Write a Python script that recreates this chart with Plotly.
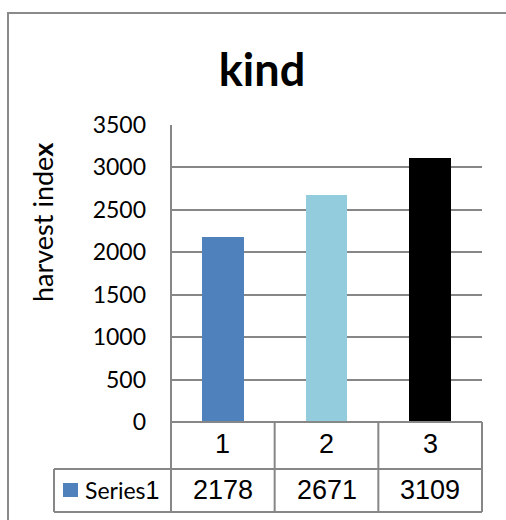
import plotly.graph_objects as go

# Chart data
categories = ["1", "2", "3"]
values = [2178, 2671, 3109]
series_name = "Series1"
bar_colors = ["#4F81BD", "#93CDDD", "#000000"]
y_ticks = [0, 500, 1000, 1500, 2000, 2500, 3000, 3500]

W, H = 506, 520
GRID = "#878787"


def px(x):
    return x / W


def py(y):
    return 1 - y / H


# plot area in pixels
PL, PR, PT, PB = 171, 482, 125, 422
ROW1_B, ROW2_B, TABLE_L = 469, 512, 54

fig = go.Figure()
fig.add_trace(go.Bar(
    x=categories, y=values, width=0.405,
    marker=dict(color=bar_colors, line=dict(width=0)),
    name=series_name, showlegend=False, hoverinfo="skip",
))

shapes = []


def hline(y, x0, x1, color=GRID, w=2):
    shapes.append(dict(type="line", xref="paper", yref="paper",
                       x0=px(x0), x1=px(x1), y0=py(y), y1=py(y),
                       line=dict(color=color, width=w)))


def vline(x, y0, y1, xref="paper", color=GRID, w=2):
    xv = px(x) if xref == "paper" else x
    shapes.append(dict(type="line", xref=xref, yref="paper",
                       x0=xv, x1=xv, y0=py(y0), y1=py(y1),
                       line=dict(color=color, width=w)))


# outer frame (left and top edges)
shapes.append(dict(type="path", xref="paper", yref="paper",
                   path=f"M {px(8)} {py(H)} L {px(8)} {py(13)} L {px(W)} {py(13)}",
                   line=dict(color="#8a8a8a", width=2)))

# data table grid
hline(PB, PL, PR)
hline(ROW1_B, TABLE_L, PR)
hline(ROW2_B, TABLE_L, PR)
vline(PL, PT, ROW2_B)
vline(PR, PB, ROW2_B)
vline(TABLE_L, ROW1_B, ROW2_B)
for i in range(1, len(categories)):
    vline(i - 0.5, PB, ROW2_B, xref="x")

# legend key in the table
shapes.append(dict(type="rect", xref="paper", yref="paper",
                   x0=px(63), x1=px(78), y0=py(497), y1=py(483),
                   fillcolor=bar_colors[0], line=dict(width=0)))

annotations = []
table_font = dict(family="Liberation Sans, Arial", size=27, color="#000000")
for i, (c, v) in enumerate(zip(categories, values)):
    annotations.append(dict(x=i, xref="x", y=py(444), yref="paper",
                            text=c, showarrow=False, font=table_font,
                            xanchor="center", yanchor="middle"))
    annotations.append(dict(x=i, xref="x", y=py(490), yref="paper",
                            text=str(v), showarrow=False, font=table_font,
                            xanchor="center", yanchor="middle"))

annotations.append(dict(
    x=px(83), xref="paper", y=py(490), yref="paper",
    text=series_name[:-1] + '<span style="font-family:Liberation Sans, Arial;font-size:25px">'
    + series_name[-1] + "</span>",
    showarrow=False, xanchor="left", yanchor="middle",
    font=dict(family="Lato", size=23, color="#000000")))

# y axis title
annotations.append(dict(
    x=px(42), xref="paper", y=py(222), yref="paper",
    text="harvest inde<b>x</b>", textangle=-90, showarrow=False,
    xanchor="center", yanchor="middle",
    font=dict(family="Lato", size=27, color="#000000")))

fig.update_layout(
    width=W, height=H,
    margin=dict(l=0, r=0, t=0, b=0, pad=0, autoexpand=False),
    paper_bgcolor="white", plot_bgcolor="white",
    title=dict(text="<b>kind</b>", x=px(262), xref="paper", xanchor="center",
               y=py(70), yref="paper", yanchor="middle", automargin=False,
               font=dict(family="Lato", size=45, color="#000000")),
    xaxis=dict(domain=[px(PL), px(PR)], range=[-0.5, 2.5], automargin=False,
               showticklabels=False, showgrid=False, zeroline=False,
               showline=False, ticks=""),
    yaxis=dict(domain=[py(PB), py(PT)], range=[0, 3500], automargin=False,
               tickvals=y_ticks, ticks="", showline=False, zeroline=False,
               showgrid=True, gridcolor=GRID, gridwidth=2,
               ticklabelstandoff=24,
               tickfont=dict(family="Lato", size=23, color="#000000")),
    shapes=shapes, annotations=annotations,
    bargap=0,
)

fig.write_html("out.html")
